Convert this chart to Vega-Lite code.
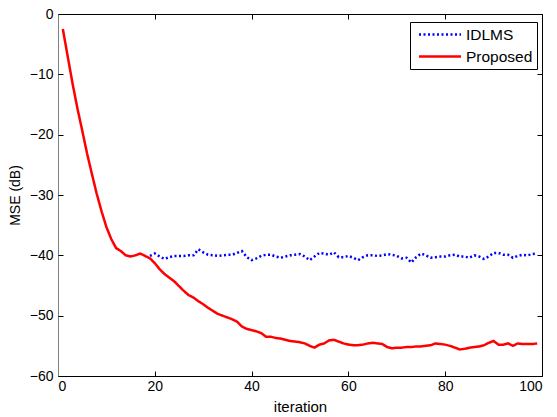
{
  "$schema": "https://vega.github.io/schema/vega-lite/v6.json",
  "width": 484,
  "height": 362,
  "autosize": {"type": "none"},
  "padding": {"left": 58, "top": 14, "right": 15, "bottom": 41},
  "background": "white",
  "config": {
    "view": {"stroke": null},
    "font": "Liberation Sans",
    "axis": {"labelFont": "Liberation Sans", "titleFont": "Liberation Sans", "labelFontSize": 14, "titleFontSize": 15, "titleFontWeight": "normal", "labelColor": "black", "titleColor": "black", "grid": false, "tickColor": "black", "domainColor": "black", "tickSize": 5, "tickWidth": 1, "domainWidth": 1}
  },
  "data": {"values": [
    {"x":1,"y":-2.5,"s":"Proposed"},{"x":2,"y":-7.0,"s":"Proposed"},{"x":3,"y":-11.5,"s":"Proposed"},{"x":4,"y":-15.6,"s":"Proposed"},{"x":5,"y":-19.3,"s":"Proposed"},{"x":6,"y":-23.1,"s":"Proposed"},{"x":7,"y":-26.5,"s":"Proposed"},{"x":8,"y":-29.8,"s":"Proposed"},{"x":9,"y":-32.7,"s":"Proposed"},{"x":10,"y":-35.3,"s":"Proposed"},
    {"x":11,"y":-37.3,"s":"Proposed"},{"x":12,"y":-38.8,"s":"Proposed"},{"x":13,"y":-39.3,"s":"Proposed"},{"x":14,"y":-40.0,"s":"Proposed"},{"x":15,"y":-40.2,"s":"Proposed"},{"x":16,"y":-40.0,"s":"Proposed"},{"x":17,"y":-39.7,"s":"Proposed"},{"x":18,"y":-40.1,"s":"Proposed"},{"x":19,"y":-40.5,"s":"Proposed"},{"x":20,"y":-41.3,"s":"Proposed"},
    {"x":21,"y":-42.3,"s":"Proposed"},{"x":22,"y":-43.1,"s":"Proposed"},{"x":23,"y":-43.7,"s":"Proposed"},{"x":24,"y":-44.3,"s":"Proposed"},{"x":25,"y":-45.1,"s":"Proposed"},{"x":26,"y":-45.9,"s":"Proposed"},{"x":27,"y":-46.6,"s":"Proposed"},{"x":28,"y":-47.0,"s":"Proposed"},{"x":29,"y":-47.6,"s":"Proposed"},{"x":30,"y":-48.1,"s":"Proposed"},
    {"x":31,"y":-48.7,"s":"Proposed"},{"x":32,"y":-49.2,"s":"Proposed"},{"x":33,"y":-49.7,"s":"Proposed"},{"x":34,"y":-50.0,"s":"Proposed"},{"x":35,"y":-50.3,"s":"Proposed"},{"x":36,"y":-50.6,"s":"Proposed"},{"x":37,"y":-51.0,"s":"Proposed"},{"x":38,"y":-51.8,"s":"Proposed"},{"x":39,"y":-52.2,"s":"Proposed"},{"x":40,"y":-52.4,"s":"Proposed"},
    {"x":41,"y":-52.6,"s":"Proposed"},{"x":42,"y":-52.9,"s":"Proposed"},{"x":43,"y":-53.5,"s":"Proposed"},{"x":44,"y":-53.5,"s":"Proposed"},{"x":45,"y":-53.7,"s":"Proposed"},{"x":46,"y":-53.8,"s":"Proposed"},{"x":47,"y":-54.0,"s":"Proposed"},{"x":48,"y":-54.2,"s":"Proposed"},{"x":49,"y":-54.3,"s":"Proposed"},{"x":50,"y":-54.4,"s":"Proposed"},
    {"x":51,"y":-54.6,"s":"Proposed"},{"x":52,"y":-55.0,"s":"Proposed"},{"x":53,"y":-55.3,"s":"Proposed"},{"x":54,"y":-54.8,"s":"Proposed"},{"x":55,"y":-54.6,"s":"Proposed"},{"x":56,"y":-54.1,"s":"Proposed"},{"x":57,"y":-54.0,"s":"Proposed"},{"x":58,"y":-54.3,"s":"Proposed"},{"x":59,"y":-54.6,"s":"Proposed"},{"x":60,"y":-54.8,"s":"Proposed"},
    {"x":61,"y":-54.9,"s":"Proposed"},{"x":62,"y":-54.9,"s":"Proposed"},{"x":63,"y":-54.8,"s":"Proposed"},{"x":64,"y":-54.6,"s":"Proposed"},{"x":65,"y":-54.5,"s":"Proposed"},{"x":66,"y":-54.6,"s":"Proposed"},{"x":67,"y":-54.7,"s":"Proposed"},{"x":68,"y":-55.2,"s":"Proposed"},{"x":69,"y":-55.4,"s":"Proposed"},{"x":70,"y":-55.3,"s":"Proposed"},
    {"x":71,"y":-55.3,"s":"Proposed"},{"x":72,"y":-55.2,"s":"Proposed"},{"x":73,"y":-55.2,"s":"Proposed"},{"x":74,"y":-55.1,"s":"Proposed"},{"x":75,"y":-55.1,"s":"Proposed"},{"x":76,"y":-55.0,"s":"Proposed"},{"x":77,"y":-54.9,"s":"Proposed"},{"x":78,"y":-54.6,"s":"Proposed"},{"x":79,"y":-54.7,"s":"Proposed"},{"x":80,"y":-54.8,"s":"Proposed"},
    {"x":81,"y":-55.0,"s":"Proposed"},{"x":82,"y":-55.3,"s":"Proposed"},{"x":83,"y":-55.6,"s":"Proposed"},{"x":84,"y":-55.5,"s":"Proposed"},{"x":85,"y":-55.3,"s":"Proposed"},{"x":86,"y":-55.2,"s":"Proposed"},{"x":87,"y":-55.1,"s":"Proposed"},{"x":88,"y":-54.9,"s":"Proposed"},{"x":89,"y":-54.5,"s":"Proposed"},{"x":90,"y":-54.2,"s":"Proposed"},
    {"x":91,"y":-54.8,"s":"Proposed"},{"x":92,"y":-54.8,"s":"Proposed"},{"x":93,"y":-54.6,"s":"Proposed"},{"x":94,"y":-55.0,"s":"Proposed"},{"x":95,"y":-54.6,"s":"Proposed"},{"x":96,"y":-54.7,"s":"Proposed"},{"x":97,"y":-54.7,"s":"Proposed"},{"x":98,"y":-54.7,"s":"Proposed"},{"x":99,"y":-54.6,"s":"Proposed"},
    {"x":19,"y":-40.1,"s":"IDLMS"},{"x":20,"y":-39.7,"s":"IDLMS"},{"x":21,"y":-40.2,"s":"IDLMS"},{"x":22,"y":-40.6,"s":"IDLMS"},{"x":23,"y":-40.3,"s":"IDLMS"},{"x":24,"y":-40.1,"s":"IDLMS"},{"x":25,"y":-40.1,"s":"IDLMS"},{"x":26,"y":-40.1,"s":"IDLMS"},{"x":27,"y":-40.0,"s":"IDLMS"},{"x":28,"y":-40.0,"s":"IDLMS"},
    {"x":29,"y":-39.0,"s":"IDLMS"},{"x":30,"y":-39.5,"s":"IDLMS"},{"x":31,"y":-39.9,"s":"IDLMS"},{"x":32,"y":-40.0,"s":"IDLMS"},{"x":33,"y":-40.1,"s":"IDLMS"},{"x":34,"y":-40.0,"s":"IDLMS"},{"x":35,"y":-39.9,"s":"IDLMS"},{"x":36,"y":-39.9,"s":"IDLMS"},{"x":37,"y":-39.6,"s":"IDLMS"},{"x":38,"y":-39.3,"s":"IDLMS"},
    {"x":39,"y":-40.3,"s":"IDLMS"},{"x":40,"y":-40.8,"s":"IDLMS"},{"x":41,"y":-40.5,"s":"IDLMS"},{"x":42,"y":-40.1,"s":"IDLMS"},{"x":43,"y":-39.9,"s":"IDLMS"},{"x":44,"y":-39.9,"s":"IDLMS"},{"x":45,"y":-40.2,"s":"IDLMS"},{"x":46,"y":-40.4,"s":"IDLMS"},{"x":47,"y":-40.2,"s":"IDLMS"},{"x":48,"y":-40.0,"s":"IDLMS"},
    {"x":49,"y":-39.9,"s":"IDLMS"},{"x":50,"y":-39.8,"s":"IDLMS"},{"x":51,"y":-40.2,"s":"IDLMS"},{"x":52,"y":-40.8,"s":"IDLMS"},{"x":53,"y":-40.2,"s":"IDLMS"},{"x":54,"y":-39.6,"s":"IDLMS"},{"x":55,"y":-39.7,"s":"IDLMS"},{"x":56,"y":-39.9,"s":"IDLMS"},{"x":57,"y":-39.5,"s":"IDLMS"},{"x":58,"y":-40.3,"s":"IDLMS"},
    {"x":59,"y":-40.3,"s":"IDLMS"},{"x":60,"y":-40.1,"s":"IDLMS"},{"x":61,"y":-40.4,"s":"IDLMS"},{"x":62,"y":-40.8,"s":"IDLMS"},{"x":63,"y":-40.3,"s":"IDLMS"},{"x":64,"y":-40.0,"s":"IDLMS"},{"x":65,"y":-40.0,"s":"IDLMS"},{"x":66,"y":-40.1,"s":"IDLMS"},{"x":67,"y":-40.0,"s":"IDLMS"},{"x":68,"y":-39.8,"s":"IDLMS"},
    {"x":69,"y":-39.9,"s":"IDLMS"},{"x":70,"y":-40.1,"s":"IDLMS"},{"x":71,"y":-40.5,"s":"IDLMS"},{"x":72,"y":-40.4,"s":"IDLMS"},{"x":73,"y":-41.2,"s":"IDLMS"},{"x":74,"y":-40.3,"s":"IDLMS"},{"x":75,"y":-39.7,"s":"IDLMS"},{"x":76,"y":-40.0,"s":"IDLMS"},{"x":77,"y":-40.4,"s":"IDLMS"},{"x":78,"y":-40.3,"s":"IDLMS"},
    {"x":79,"y":-40.2,"s":"IDLMS"},{"x":80,"y":-40.2,"s":"IDLMS"},{"x":81,"y":-40.0,"s":"IDLMS"},{"x":82,"y":-39.9,"s":"IDLMS"},{"x":83,"y":-40.2,"s":"IDLMS"},{"x":84,"y":-40.2,"s":"IDLMS"},{"x":85,"y":-40.4,"s":"IDLMS"},{"x":86,"y":-40.0,"s":"IDLMS"},{"x":87,"y":-40.2,"s":"IDLMS"},{"x":88,"y":-40.6,"s":"IDLMS"},
    {"x":89,"y":-40.2,"s":"IDLMS"},{"x":90,"y":-39.6,"s":"IDLMS"},{"x":91,"y":-39.6,"s":"IDLMS"},{"x":92,"y":-39.9,"s":"IDLMS"},{"x":93,"y":-39.9,"s":"IDLMS"},{"x":94,"y":-40.4,"s":"IDLMS"},{"x":95,"y":-40.1,"s":"IDLMS"},{"x":96,"y":-39.9,"s":"IDLMS"},{"x":97,"y":-40.0,"s":"IDLMS"},{"x":98,"y":-39.8,"s":"IDLMS"},{"x":99,"y":-39.7,"s":"IDLMS"}
  ]},
  "layer": [
    {
      "mark": {"type": "line", "strokeWidth": 2.5, "clip": true},
      "encoding": {
        "x": {"field": "x", "type": "quantitative", "scale": {"domain": [0, 100], "nice": false},
              "axis": {"title": "iteration", "values": [0,20,40,60,80,100], "ticks": false, "labelPadding": 3, "titlePadding": 6, "format": "d"}},
        "y": {"field": "y", "type": "quantitative", "scale": {"domain": [-60, 0], "nice": false, "zero": false},
              "axis": {"title": "MSE (dB)", "titleFontSize": 14, "values": [-60,-50,-40,-30,-20,-10,0], "ticks": false, "domainColor": "#808080", "labelPadding": 5, "titlePadding": 7, "format": "d"}},
        "color": {"field": "s", "type": "nominal", "scale": {"domain": ["IDLMS", "Proposed"], "range": ["#0000ff", "#ff0000"]},
                  "legend": {"title": null, "orient": "none", "legendX": 352, "legendY": 8, "direction": "vertical",
                             "symbolType": "M-0.5,0H5.5", "symbolSize": 196, "symbolStrokeWidth": 2.5,
                             "labelFont": "Liberation Sans", "labelFontSize": 15.5, "labelColor": "black",
                             "strokeColor": "black", "fillColor": "white", "padding": 4, "rowPadding": 5, "labelOffset": 35}},
        "strokeDash": {"field": "s", "type": "nominal", "scale": {"domain": ["IDLMS", "Proposed"], "range": [[2, 2.5], [1, 0]]},
                  "legend": {"title": null, "orient": "none", "legendX": 352, "legendY": 8}},
        "order": {"field": "x", "type": "quantitative"}
      }
    },
    {
      "mark": {"type": "rule", "opacity": 0},
      "encoding": {
        "x": {"field": "x", "type": "quantitative", "scale": {"domain": [0, 100], "nice": false},
              "axis": {"orient": "top", "offset": -362, "title": null, "labels": false, "domain": false, "values": [0,20,40,60,80,100]}},
        "y": {"field": "y", "type": "quantitative", "scale": {"domain": [-60, 0], "nice": false, "zero": false},
              "axis": {"orient": "right", "offset": -484, "title": null, "labels": false, "domain": false, "values": [-60,-50,-40,-30,-20,-10,0]}}
      }
    },
    {
      "mark": {"type": "rule", "opacity": 0},
      "encoding": {
        "x": {"field": "x", "type": "quantitative", "scale": {"domain": [0, 100], "nice": false},
              "axis": {"orient": "bottom", "offset": -362, "title": null, "labels": false, "values": [0,20,40,60,80,100]}},
        "y": {"field": "y", "type": "quantitative", "scale": {"domain": [-60, 0], "nice": false, "zero": false},
              "axis": {"orient": "left", "offset": -484, "title": null, "labels": false, "values": [-60,-50,-40,-30,-20,-10,0]}}
      }
    }
  ],
  "resolve": {"axis": {"x": "independent", "y": "independent"}}
}
